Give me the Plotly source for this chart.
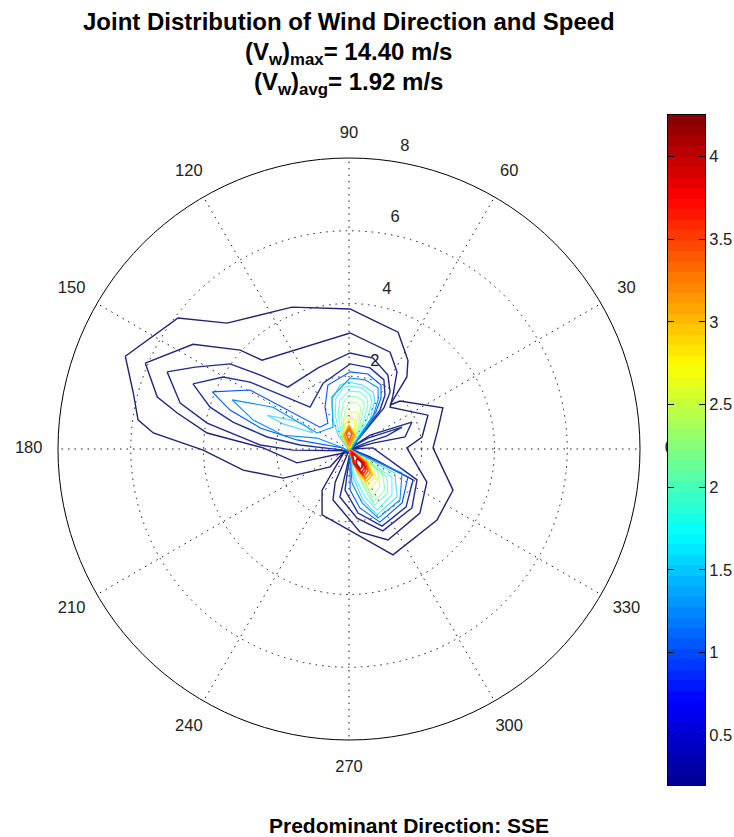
import numpy as np
import plotly.graph_objects as go

# Contour levels (colour bar units)
levels = [0.2, 0.41, 0.63, 0.84, 1.05, 1.27, 1.48, 1.69, 1.91, 2.12, 2.33,
          2.55, 2.76, 2.97, 3.19, 3.40, 3.61, 3.83, 4.04]

# Contour vertices: east / north wind components (m/s)
c01_e = [-6.15,-4.70,-3.35,-1.57,0.03,0.66,1.35,1.62,1.59,1.13,1.40,2.58,2.44,2.31,2.86,2.42,1.21,-0.74,-0.74,-0.47,-0.11,-0.52,-1.81,-2.91,-4.01,-5.38,-5.80,-5.93]
c01_n = [2.55,3.60,3.46,3.90,3.85,3.54,3.21,2.44,1.98,1.21,1.32,1.13,0.52,0.03,-1.13,-1.95,-2.91,-1.81,-1.13,-0.66,-0.05,-0.49,-0.80,-0.58,-0.03,0.44,0.80,1.54]
c02_e = [-5.60,-4.29,-2.99,-2.39,0.03,1.13,1.32,1.21,1.13,2.17,2.01,1.59,2.14,1.95,1.07,0.30,-0.44,-0.38,-0.03,-0.16,-1.43,-2.36,-3.90,-4.72,-5.27]
c02_n = [2.36,2.88,2.72,2.44,3.19,2.66,2.12,1.48,1.15,0.93,0.33,0.03,-0.91,-1.76,-2.50,-2.28,-1.40,-0.91,-0.11,-0.11,-0.38,0.03,0.44,0.99,1.43]
c03_e = [-5.00,-4.23,-3.27,-2.39,-1.68,-0.85,0.03,0.66,1.07,1.13,0.96,0.08,0.58,1.73,1.54,0.66,0.08,0.66,1.87,1.73,0.93,0.22,-0.25,0.03,-0.16,-1.54,-2.44,-3.90,-4.64]
c03_n = [2.12,2.25,2.34,2.01,1.70,2.23,2.64,2.50,2.03,1.57,1.13,0.05,0.38,0.74,0.33,0.16,0.00,0.03,-0.85,-1.62,-2.25,-1.90,-1.32,-0.11,-0.05,-0.03,0.11,0.71,1.26]
c04_e = [-4.29,-3.46,-2.72,-1.07,-0.71,0.03,0.58,0.96,0.99,0.85,0.08,0.52,1.46,1.04,0.52,0.05,0.58,1.76,1.57,0.91,0.25,-0.11,0.03,-0.16,-1.35,-2.25,-3.19,-3.82]
c04_n = [1.79,1.98,1.84,1.15,1.81,2.34,2.23,1.90,1.48,1.07,0.05,0.30,0.60,0.36,0.19,0.00,-0.22,-0.85,-1.59,-2.12,-1.76,-1.13,-0.11,-0.03,0.11,0.33,0.74,1.15]
c05_e = [-3.76,-2.72,-0.80,-0.58,-0.66,-0.58,0.03,0.52,0.88,0.88,0.74,0.08,0.05,1.62,1.46,0.85,0.30,0.03,0.03,-0.16,-1.43,-2.44,-3.27]
c05_n = [1.57,1.62,0.60,0.71,1.15,1.76,2.12,2.06,1.76,1.40,1.02,0.05,0.00,-0.77,-1.48,-2.01,-1.62,-1.13,-0.11,0.03,0.25,0.58,1.07]
c06_e = [-3.21,-2.09,-0.88,-0.44,-0.47,0.03,0.44,0.80,0.80,0.63,0.08,0.05,1.46,1.40,0.80,0.36,0.08,0.03,-0.16,-0.88,-1.81,-2.64]
c06_n = [1.35,1.15,0.44,0.60,1.43,1.95,1.90,1.68,1.35,0.80,0.03,-0.03,-0.66,-1.40,-1.90,-1.48,-0.93,-0.08,0.03,0.30,0.38,0.80]
c07a_e = [-2.25,-1.62,-1.26,-0.99,-1.81]
c07a_n = [0.93,0.80,0.71,0.44,0.69]
c07b_e = [0.00,-0.30,-0.44,-0.47,-0.25,0.00,0.36,0.66,0.71,0.58,0.08]
c07b_n = [-0.03,0.38,0.80,1.35,1.76,1.84,1.76,1.57,1.35,0.80,0.05]
c07c_e = [0.00,1.26,1.32,0.77,0.38,0.11]
c07c_n = [0.00,-0.66,-1.32,-1.81,-1.40,-0.77]
c08b_e = [0.00,-0.25,-0.38,-0.36,-0.16,0.00,0.36,0.58,0.63,0.47,0.08]
c08b_n = [0.00,0.38,0.93,1.40,1.68,1.73,1.68,1.48,1.29,0.74,0.05]
c08c_e = [0.00,1.18,1.18,0.77,0.44,0.16]
c08c_n = [0.00,-0.77,-1.26,-1.68,-1.32,-0.77]
c09b_e = [0.00,-0.19,-0.30,-0.25,0.00,0.30,0.49,0.52,0.38,0.05]
c09b_n = [0.00,0.38,0.93,1.35,1.59,1.57,1.40,1.21,0.69,0.05]
c09c_e = [0.00,1.04,1.07,0.71,0.49,0.19]
c09c_n = [0.00,-0.77,-1.21,-1.54,-1.21,-0.58]
c10b_e = [0.00,-0.16,-0.22,-0.16,0.00,0.25,0.41,0.41,0.30,0.05]
c10b_n = [0.00,0.38,0.88,1.26,1.46,1.43,1.29,1.13,0.63,0.05]
c10c_e = [0.00,0.91,0.99,0.66,0.52,0.22]
c10c_n = [0.00,-0.63,-1.13,-1.46,-1.07,-0.49]
c11b_e = [0.00,-0.14,-0.16,-0.08,0.03,0.22,0.33,0.25,0.05]
c11b_n = [0.00,0.33,0.80,1.13,1.29,1.26,1.15,0.58,0.05]
c11c_e = [0.00,0.77,0.85,0.63,0.38,0.16]
c11c_n = [0.00,-0.49,-1.04,-1.32,-0.93,-0.38]
c12b_e = [0.00,-0.14,-0.14,0.00,0.16,0.25,0.18,0.05]
c12b_n = [0.00,0.33,0.74,1.02,1.02,0.99,0.52,0.05]
c12c_e = [0.00,0.62,0.77,0.58,0.33,0.12]
c12c_n = [0.00,-0.38,-0.85,-1.13,-0.85,-0.30]
c13b_e = [0.00,-0.18,-0.12,0.03,0.17,0.15,0.03]
c13b_n = [0.00,0.33,0.66,0.85,0.80,0.44,0.05]
c13c_e = [0.00,0.54,0.70,0.52,0.28,0.10]
c13c_n = [0.00,-0.38,-0.77,-0.99,-0.71,-0.22]
c14b_e = [0.00,-0.16,0.00,0.18]
c14b_n = [0.03,0.36,0.66,0.36]
c14c_e = [0.00,0.50,0.64,0.48,0.22]
c14c_n = [0.00,-0.36,-0.71,-0.90,-0.63]
c15b_e = [0.00,-0.12,0.00,0.13]
c15b_n = [0.10,0.38,0.62,0.38]
c15c_e = [0.00,0.48,0.58,0.44,0.16]
c15c_n = [0.00,-0.38,-0.68,-0.82,-0.48]
c16b_e = [0.00,-0.07,0.00,0.08]
c16b_n = [0.22,0.41,0.54,0.41]
c16c_e = [0.02,0.46,0.52,0.42,0.13]
c16c_n = [-0.02,-0.38,-0.60,-0.75,-0.42]
c17c_e = [0.05,0.42,0.47,0.38,0.13]
c17c_n = [-0.05,-0.38,-0.56,-0.70,-0.40]
c18c_e = [0.08,0.38,0.43,0.33,0.15]
c18c_n = [-0.10,-0.36,-0.52,-0.65,-0.38]
c19c_e = [0.22,0.36,0.36,0.30,0.20]
c19c_n = [-0.25,-0.38,-0.50,-0.56,-0.38]

contours = [
    (0, c01_e, c01_n), (1, c02_e, c02_n), (2, c03_e, c03_n), (3, c04_e, c04_n),
    (4, c05_e, c05_n), (5, c06_e, c06_n),
    (6, c07a_e, c07a_n), (6, c07b_e, c07b_n), (6, c07c_e, c07c_n),
    (7, c08b_e, c08b_n), (7, c08c_e, c08c_n),
    (8, c09b_e, c09b_n), (8, c09c_e, c09c_n),
    (9, c10b_e, c10b_n), (9, c10c_e, c10c_n),
    (10, c11b_e, c11b_n), (10, c11c_e, c11c_n),
    (11, c12b_e, c12b_n), (11, c12c_e, c12c_n),
    (12, c13b_e, c13b_n), (12, c13c_e, c13c_n),
    (13, c14b_e, c14b_n), (13, c14c_e, c14c_n),
    (14, c15b_e, c15b_n), (14, c15c_e, c15c_n),
    (15, c16b_e, c16b_n), (15, c16c_e, c16c_n),
    (16, c17c_e, c17c_n), (17, c18c_e, c18c_n), (18, c19c_e, c19c_n),
]

angle_ticks = [0, 30, 60, 90, 120, 150, 180, 210, 240, 270, 300, 330]
angle_label_r = [8.8, 8.8, 8.8, 8.65, 8.8, 8.8, 8.8, 8.8, 8.8, 8.75, 8.8, 8.8]
speed_ticks = [2, 4, 6, 8]
speed_label_theta = [73.4, 76.6, 78.7, 79.5]
speed_label_r = [2.49, 4.49, 6.47, 8.43]
cbar_ticks = [0.5, 1, 1.5, 2, 2.5, 3, 3.5, 4]
cbar_labels = ["0.5", "1", "1.5", "2", "2.5", "3", "3.5", "4"]
cbar_min, cbar_max = 0.2, 4.25

JET = [[0, "rgb(0,0,143)"], [0.125, "rgb(0,0,255)"], [0.375, "rgb(0,255,255)"],
       [0.625, "rgb(255,255,0)"], [0.875, "rgb(255,0,0)"], [1, "rgb(128,0,0)"]]
STOPS = np.array([0, 0.125, 0.375, 0.625, 0.875, 1])
R = [0, 0, 0, 255, 255, 128]
G = [0, 0, 255, 255, 0, 0]
B = [143, 255, 255, 0, 0, 0]
low_line_colors = ["#23236f", "#23237a", "#222a88", "#203298"]


def jet(k):
    if k < len(low_line_colors):
        return low_line_colors[k]
    t = (levels[k] - cbar_min) / (cbar_max - cbar_min)
    return "rgb(%d,%d,%d)" % (np.interp(t, STOPS, R), np.interp(t, STOPS, G), np.interp(t, STOPS, B))


def line_width(k):
    if k < 4:
        return 1.4
    return 1.6 if k >= 13 else 1.1


LABEL_FONT = dict(family="Liberation Sans, Arial", size=16.5, color="#222")
fig = go.Figure()

# Contours
for lev, e, n in contours:
    e = np.array(list(e) + [e[0]])
    n = np.array(list(n) + [n[0]])
    fig.add_trace(go.Scatterpolar(
        r=np.hypot(e, n), theta=np.degrees(np.arctan2(n, e)), mode="lines",
        line=dict(color=jet(lev), width=line_width(lev)),
        opacity=0.65 if 6 <= lev <= 11 else 1, hoverinfo="skip", subplot="polar",
        showlegend=False))

# Labels outside the circle: hidden page-wide cartesian layer, under the colour bar
a = np.radians(angle_ticks)
fig.add_trace(go.Scatter(
    x=np.array(angle_label_r) * np.cos(a), y=np.array(angle_label_r) * np.sin(a),
    text=[str(v) for v in angle_ticks], mode="text", textfont=LABEL_FONT,
    cliponaxis=False, hoverinfo="skip", showlegend=False, xaxis="x", yaxis="y"))
s = np.radians(speed_label_theta)
fig.add_trace(go.Scatter(
    x=np.array(speed_label_r[3:]) * np.cos(s[3:]), y=np.array(speed_label_r[3:]) * np.sin(s[3:]),
    text=[str(v) for v in speed_ticks[3:]], mode="text", textfont=LABEL_FONT,
    cliponaxis=False, hoverinfo="skip", showlegend=False, xaxis="x", yaxis="y"))
fig.add_trace(go.Scatterpolar(
    r=speed_label_r[:3], theta=speed_label_theta[:3], text=[str(v) for v in speed_ticks[:3]],
    mode="text", textfont=LABEL_FONT, cliponaxis=False, hoverinfo="skip",
    showlegend=False, subplot="polar"))

# Colour bar ramp
n_bands = 64
edges = np.linspace(cbar_min, cbar_max, n_bands + 1)
centers = (edges[:-1] + edges[1:]) / 2
fig.add_trace(go.Heatmap(
    z=centers.reshape(-1, 1), x=[0], y=centers, colorscale=JET, zmin=cbar_min, zmax=cbar_max,
    showscale=False, hoverinfo="skip", xaxis="x2", yaxis="y2"))

H, W = 837, 734
GRID = "rgba(0,0,0,0.9)"
fig.update_layout(
    width=W, height=H, autosize=False, margin=dict(l=0, r=0, t=0, b=0),
    paper_bgcolor="white", plot_bgcolor="white", showlegend=False,
    polar=dict(
        domain=dict(x=[58 / W, 640 / W], y=[97 / H, 679 / H]),
        bgcolor="rgba(0,0,0,0)",
        radialaxis=dict(range=[0, 8], tickvals=speed_ticks, showticklabels=False, ticks="",
                        showline=False, gridcolor=GRID, griddash="1.5px,5px", gridwidth=1, angle=0),
        angularaxis=dict(tickvals=angle_ticks, showticklabels=False, ticks="",
                         showline=True, linecolor="black", linewidth=1, gridcolor=GRID,
                         griddash="1.5px,5px", gridwidth=1, rotation=0, direction="counterclockwise"),
    ),
    xaxis=dict(domain=[0, 1], range=[-349 / 36.4, 385 / 36.4], visible=False, fixedrange=True),
    yaxis=dict(domain=[0, 1], range=[-388 / 36.4, 449 / 36.4], visible=False, fixedrange=True),
    xaxis2=dict(domain=[667.5 / W, 705 / W], range=[-0.5, 0.5], showticklabels=False, ticks="",
                showline=True, linecolor="black", linewidth=1, mirror=True, showgrid=False,
                zeroline=False, anchor="y2"),
    yaxis2=dict(domain=[52 / H, 722 / H], range=[cbar_min, cbar_max], side="right", anchor="x2",
                tickmode="array", tickvals=cbar_ticks, ticktext=cbar_labels, ticks="inside", ticklen=6,
                tickcolor="black", showline=True, linecolor="black", linewidth=1, mirror="ticks",
                showgrid=False, zeroline=False, tickfont=LABEL_FONT),
)

TITLE = dict(family="Liberation Sans, Arial", size=24, color="black")


def note(text, x, ypx, size=24):
    fig.add_annotation(text=text, x=x / W, y=1 - ypx / H, xref="paper", yref="paper",
                       showarrow=False, xanchor="center", yanchor="middle",
                       font=dict(TITLE, size=size))


note("<b>Joint Distribution of Wind Direction and Speed</b>", 349, 21)
note("<b>(V<sub>w</sub>)<sub>max</sub>= 14.40 m/s</b>", 348, 53)
note("<b>(V<sub>w</sub>)<sub>avg</sub>= 1.92 m/s</b>", 348, 83)
note("<b>Predominant Direction: SSE</b>", 409, 825, 21)

fig.write_html("out.html", config=dict(displayModeBar=False),
               post_script="document.body.style.margin='0';window.dispatchEvent(new Event('resize'));")
